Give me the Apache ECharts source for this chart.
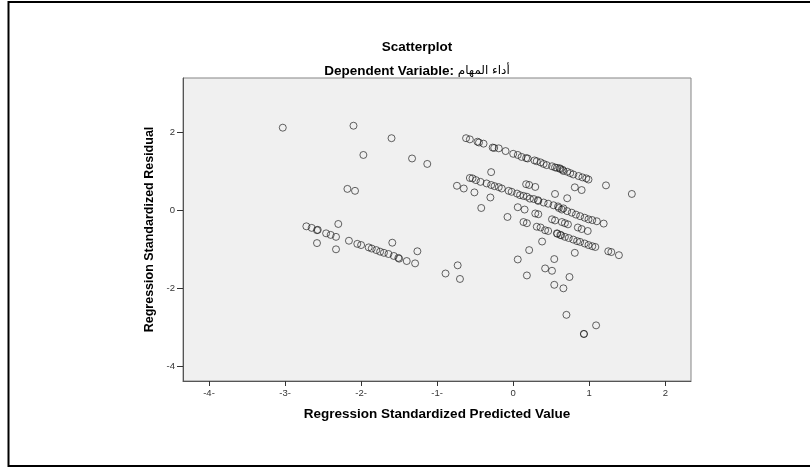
<!DOCTYPE html>
<html><head><meta charset="utf-8">
<script src="https://cdn.jsdelivr.net/npm/echarts@6/dist/echarts.min.js"></script>
<style>html,body{margin:0;padding:0;background:#fff}#c{width:810px;height:468px}</style>
</head><body><div id="c"></div>
<script>
// Regression Standardized Predicted Value (x) and Residual (y)
const predicted = [
 -3.03,-2.10,-1.60,-1.97,-1.33,-1.13,-2.18,-2.08,
 -2.72,-2.65,-2.58,-2.57,-2.30,-2.46,-2.40,-2.33,-2.58,-2.33,-2.16,-2.05,-2.00,-1.90,-1.86,-1.80,-1.75,-1.70,-1.64,-1.59,-1.57,-1.51,-1.50,-1.40,-1.29,-1.26,
 -0.89,-0.73,-0.70,
 -0.62,-0.57,-0.47,-0.45,-0.39,-0.27,-0.25,-0.19,-0.10,0.00,0.06,0.11,0.17,0.19,0.28,0.31,0.36,0.40,0.44,0.51,0.55,0.575,0.61,0.62,0.65,0.66,0.71,0.75,0.79,0.86,0.91,0.96,0.99,1.22,1.56,
 0.81,0.90,
 -0.29,0.17,0.21,0.29,0.55,0.71,
 -0.57,-0.535,-0.49,-0.43,-0.35,-0.29,-0.245,-0.19,-0.15,-0.06,-0.02,0.05,0.09,0.135,0.18,0.27,0.22,0.325,0.33,0.40,0.46,0.53,0.59,0.60,0.64,0.66,0.71,0.77,0.825,0.88,0.94,0.99,1.04,1.10,1.19,
 -0.74,-0.65,-0.51,-0.30,0.06,0.15,0.29,0.33,0.51,0.55,0.64,0.68,0.72,0.85,0.90,0.98,
 -0.42,-0.075,0.135,0.18,0.31,0.36,0.42,0.46,0.575,0.58,0.62,0.63,0.68,0.73,0.79,0.84,0.88,0.94,0.99,1.04,1.08,
 0.38,0.21,0.06,0.54,0.81,0.42,0.51,0.18,0.74,0.54,0.66,0.70,1.09,0.93,0.93,1.25,1.29,1.39
];
const residual = [
 2.12,2.17,1.85,1.42,1.33,1.19,0.55,0.50,
 -0.41,-0.45,-0.51,-0.50,-0.35,-0.59,-0.63,-0.68,-0.84,-1.00,-0.78,-0.86,-0.89,-0.95,-0.98,-1.02,-1.06,-1.09,-1.12,-0.83,-1.17,-1.22,-1.24,-1.30,-1.36,-1.05,
 -1.62,-1.41,-1.76,
 1.85,1.82,1.76,1.74,1.71,1.61,1.60,1.59,1.52,1.45,1.42,1.37,1.34,1.33,1.28,1.26,1.23,1.19,1.16,1.13,1.10,1.09,1.08,1.06,1.04,1.01,0.99,0.955,0.92,0.88,0.845,0.82,0.79,0.64,0.42,
 0.59,0.52,
 0.98,0.67,0.65,0.60,0.42,0.31,
 0.83,0.82,0.775,0.73,0.69,0.65,0.62,0.595,0.56,0.50,0.475,0.43,0.39,0.37,0.35,0.29,0.30,0.26,0.24,0.20,0.17,0.13,0.10,0.06,0.02,0.05,-0.02,-0.06,-0.11,-0.15,-0.19,-0.23,-0.25,-0.28,-0.34,
 0.63,0.56,0.46,0.33,0.08,0.02,-0.08,-0.10,-0.23,-0.26,-0.30,-0.33,-0.36,-0.44,-0.48,-0.53,
 0.06,-0.17,-0.30,-0.33,-0.42,-0.44,-0.51,-0.53,-0.59,-0.60,-0.63,-0.64,-0.68,-0.71,-0.75,-0.79,-0.81,-0.85,-0.89,-0.92,-0.94,
 -0.80,-1.02,-1.26,-1.25,-1.09,-1.49,-1.55,-1.67,-1.71,-1.91,-2.00,-2.68,-2.95,-3.17,-3.17,-1.05,-1.07,-1.15
];
const xTicks = [-4,-3,-2,-1,0,1,2];
const yTicks = [-4,-2,0,2];
const titleText = 'Scatterplot';
const subtitleLabel = 'Dependent Variable: ';
const subtitleVar = 'أداء المهام';
const xName = 'Regression Standardized Predicted Value';
const yName = 'Regression Standardized Residual';

const points = predicted.map((v,i)=>[v,residual[i]]);
const chart = echarts.init(document.getElementById('c'), null, {renderer:'canvas'});
const FF = '"Liberation Sans", Arial, "DejaVu Sans", sans-serif';
chart.setOption({
  animation:false,
  backgroundColor:'#ffffff',
  title:[
    {text:titleText,left:412,top:35,textAlign:'center',textStyle:{fontFamily:FF,fontSize:13.5,fontWeight:'bold',color:'#000'}},
    {text:subtitleLabel+'{a|'+subtitleVar+'}',left:412,top:59,textAlign:'center',
     textStyle:{fontFamily:FF,fontSize:13.5,fontWeight:'bold',color:'#000',
       rich:{a:{fontFamily:'"DejaVu Sans", sans-serif',fontSize:12,fontWeight:'normal',color:'#000'}}}}
  ],
  grid:{left:183,top:78,right:119,bottom:87,show:true,backgroundColor:'#f0f0f0',borderColor:'#858585',borderWidth:1},
  xAxis:{type:'value',min:-4.342,max:2.338,
    name:xName,nameLocation:'middle',nameGap:26,
    nameTextStyle:{fontFamily:FF,fontSize:13.5,fontWeight:'bold',color:'#000'},
    axisLine:{show:true,onZero:false,lineStyle:{color:'#555',width:1}},
    axisTick:{show:true,length:5,customValues:xTicks,lineStyle:{color:'#333'}},
    axisLabel:{customValues:xTicks,margin:7,fontFamily:FF,fontSize:9.5,color:'#333',formatter:v=>v<0?(v+'-'):String(v)},
    splitLine:{show:false}},
  yAxis:{type:'value',min:-4.377,max:3.394,
    name:yName,nameLocation:'middle',nameGap:27,nameRotate:90,
    nameTextStyle:{fontFamily:FF,fontSize:12.5,fontWeight:'bold',color:'#000'},
    axisLine:{show:true,onZero:false,lineStyle:{color:'#555',width:1}},
    axisTick:{show:true,length:6,customValues:yTicks,lineStyle:{color:'#333'}},
    axisLabel:{customValues:yTicks,margin:8,fontFamily:FF,fontSize:9.5,color:'#333'},
    splitLine:{show:false}},
  graphic:[
    {type:'rect',shape:{x:8.5,y:2,width:830,height:464},style:{fill:'none',stroke:'#000',lineWidth:2},silent:true}
  ],
  series:[{type:'scatter',data:points,symbol:'circle',symbolSize:7,
    itemStyle:{color:'rgba(0,0,0,0)',borderColor:'rgba(30,30,30,0.85)',borderWidth:1}}]
});
</script></body></html>
